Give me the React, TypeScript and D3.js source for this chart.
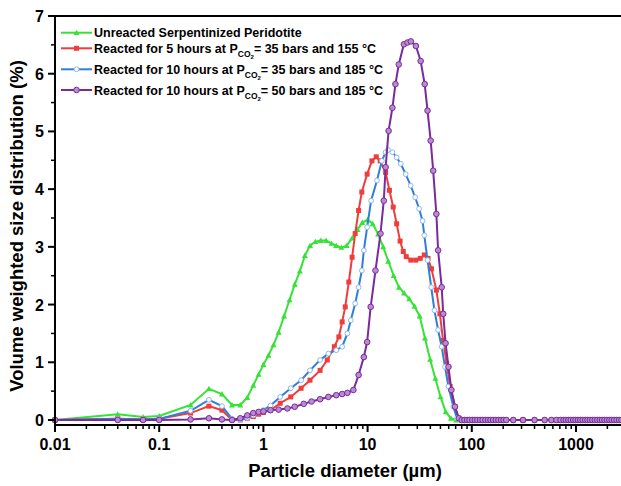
import React from "react";
import * as d3 from "d3";

// ---------- data ----------
const tailX = [80, 85, 90, 95, 101, 107, 113, 120, 127, 135, 143, 151, 160, 170, 180, 191, 202, 214, 250, 310, 400, 500, 580, 650, 710, 760, 800, 845, 890, 940, 990, 1045, 1100, 1160, 1225, 1290, 1360, 1435, 1515, 1600, 1690, 1780, 1880, 1980, 2090, 2200, 2320, 2450, 2590, 2730];

const greenX = [0.01, 0.04, 0.07, 0.1, 0.2, 0.3, 0.4, 0.5, 0.6, 0.7, 0.8, 0.9, 1.0, 1.12, 1.25, 1.4, 1.58, 1.78, 2.0, 2.24, 2.5, 2.8, 3.15, 3.55, 4.0, 4.5, 5.0, 5.6, 6.3, 7.1, 8.0, 8.9, 10, 11.2, 12.6, 14.1, 15.8, 17.8, 20, 22.4, 25.1, 28.2, 31.6, 35.5, 39.8, 44.7, 50.1, 56.2, 63.1, 70.8];
const greenY = [0, 0.10, 0.05, 0.07, 0.26, 0.54, 0.45, 0.26, 0.26, 0.39, 0.6, 0.79, 0.96, 1.12, 1.3, 1.52, 1.8, 2.08, 2.35, 2.58, 2.85, 3.02, 3.09, 3.11, 3.11, 3.06, 3.02, 2.99, 3.02, 3.15, 3.3, 3.42, 3.47, 3.4, 3.22, 3.0, 2.75, 2.5, 2.3, 2.2, 2.1, 1.97, 1.8, 1.42, 1.05, 0.72, 0.4, 0.14, 0.03, 0];

const redX = [0.01, 0.04, 0.07, 0.1, 0.2, 0.3, 0.4, 0.5, 0.6, 0.7, 0.8, 0.9, 1.0, 1.17, 1.45, 1.83, 2.3, 2.8, 3.5, 4.1, 4.8, 5.3, 5.7, 6.1, 6.6, 7.1, 7.6, 8.2, 8.8, 9.9, 11, 12.1, 13.2, 14.9, 16.2, 17.6, 19, 20.5, 22, 23.5, 26, 29, 32, 35, 38, 41, 45.7, 49.4, 53, 57.4, 62, 69, 75];
const redY = [0, 0.02, 0.01, 0.02, 0.12, 0.24, 0.17, 0, 0, 0.03, 0.06, 0.1, 0.13, 0.17, 0.29, 0.40, 0.55, 0.69, 0.86, 1.04, 1.27, 1.44, 1.7, 1.96, 2.39, 2.82, 3.23, 3.63, 3.95, 4.26, 4.49, 4.56, 4.49, 4.29, 3.98, 3.69, 3.4, 3.1, 2.92, 2.83, 2.77, 2.77, 2.8, 2.86, 2.8, 2.62, 2.25, 1.84, 1.38, 0.98, 0.58, 0.23, 0.03];

const blueX = [0.01, 0.04, 0.07, 0.1, 0.2, 0.3, 0.4, 0.5, 0.6, 0.7, 0.8, 0.9, 1.0, 1.17, 1.45, 1.83, 2.3, 2.8, 3.5, 4.2, 5.0, 5.7, 6.4, 6.9, 7.6, 8.2, 8.8, 9.2, 9.9, 10.8, 12.3, 13.7, 14.9, 15.7, 17.3, 19, 20.8, 23.2, 25.9, 28.6, 31.2, 33.7, 35, 37.6, 40.8, 43.8, 47.5, 51.4, 55.3, 59.7, 66.5, 72];
const blueY = [0, 0.02, 0.01, 0.02, 0.16, 0.35, 0.24, 0.02, 0, 0.04, 0.08, 0.13, 0.17, 0.25, 0.4, 0.55, 0.69, 0.86, 1.04, 1.15, 1.21, 1.27, 1.5, 1.73, 2.02, 2.3, 2.59, 2.94, 3.34, 3.8, 4.15, 4.49, 4.64, 4.68, 4.64, 4.55, 4.44, 4.26, 4.06, 3.86, 3.66, 3.45, 3.2, 2.77, 2.3, 1.9, 1.56, 1.27, 0.92, 0.58, 0.23, 0.03];

const purpleX = [0.01, 0.04, 0.07, 0.1, 0.2, 0.3, 0.4, 0.5, 0.6, 0.7, 0.8, 0.9, 1.0, 1.17, 1.4, 1.7, 2.0, 2.44, 2.9, 3.5, 4.2, 5.0, 5.7, 6.4, 7.3, 8.2, 9.2, 9.9, 10.7, 11.9, 13.3, 14.3, 14.9, 15.9, 17.3, 18.5, 19.9, 22.3, 24.1, 26, 29.1, 32.3, 35.3, 37.6, 40.3, 42.6, 45.7, 47.5, 51.4, 53.2, 56, 59.7, 63.7, 69, 75];
const purpleY = [0, 0, 0, 0, 0.01, 0.03, 0.01, 0, 0.03, 0.08, 0.12, 0.14, 0.15, 0.17, 0.18, 0.2, 0.23, 0.28, 0.32, 0.36, 0.4, 0.43, 0.45, 0.47, 0.52, 0.78, 1.09, 1.35, 1.96, 2.59, 3.23, 3.8, 4.38, 5.01, 5.41, 5.82, 6.16, 6.51, 6.54, 6.56, 6.48, 6.22, 5.82, 5.36, 4.84, 4.32, 3.57, 2.94, 2.3, 1.84, 1.33, 0.92, 0.52, 0.23, 0.03];

const xTickLabels = ["0.01", "0.1", "1", "10", "100", "1000"];
const yTickLabels = ["0", "1", "2", "3", "4", "5", "6", "7"];

const legendLabels = [
  { pre: "Unreacted Serpentinized Peridotite", post: "" },
  { pre: "Reacted for 5 hours at P", post: "= 35 bars and 155 °C" },
  { pre: "Reacted for 10 hours at P", post: "= 35 bars and 185 °C" },
  { pre: "Reacted for 10 hours at P", post: "= 50 bars and 185 °C" },
];

const COLORS = ["#37e237", "#ef3d3d", "#2f7ed8", "#7a2a9c"];

const W = 621;
const H = 486;
const FONT = "'Liberation Sans', Arial, sans-serif";

export default function App() {
  const x = d3.scaleLog().domain([0.01, 1000]).range([55, 576]);
  const y = d3.scaleLinear().domain([0, 7]).range([420, 16]);
  const axisY = 425;
  const leftX = 55;
  const topY = 16;

  const mk = (xs: number[], ys: number[]) => {
    const pts = xs.map((v, i) => [v, ys[i]] as [number, number]);
    tailX.forEach((t) => { if (t > xs[xs.length - 1]) pts.push([t, 0]); });
    return pts;
  };
  const series = [
    mk(greenX, greenY),
    mk(redX, redY),
    mk(blueX, blueY),
    mk(purpleX, purpleY),
  ];
  const line = d3.line<[number, number]>().x((d) => x(d[0])).y((d) => y(d[1]));

  const marker = (k: number, cx: number, cy: number, key: string) => {
    const c = COLORS[k];
    if (k === 0) {
      const s = 3;
      return <path key={key} d={`M${cx},${cy - s}L${cx + s},${cy + s * 0.8}L${cx - s},${cy + s * 0.8}Z`} fill={c} />;
    }
    if (k === 1) return <rect key={key} x={cx - 2.5} y={cy - 2.5} width={5} height={5} fill={c} />;
    if (k === 2) return <circle key={key} cx={cx} cy={cy} r={2.4} fill="#ffffff" stroke="#8cb8ee" strokeWidth={1} />;
    return <circle key={key} cx={cx} cy={cy} r={2.8} fill="#b98bd0" stroke={c} strokeWidth={1} />;
  };

  const majors = [0.01, 0.1, 1, 10, 100, 1000];
  const minors: number[] = [];
  majors.forEach((b) => {
    for (let m = 2; m <= 9; m++) minors.push(b * m);
  });

  return (
    <svg width={W} height={H} style={{ display: "block", position: "absolute", left: 0, top: 0, background: "#fff" }} fontFamily={FONT}>
      <rect x={0} y={0} width={W} height={H} fill="#fff" />
      {series.map((pts, k) => (
        <g key={k}>
          <path d={line(pts) || ""} fill="none" stroke={COLORS[k]} strokeWidth={2} />
          {pts.map((p, i) => marker(k, x(p[0]), y(p[1]), `${k}-${i}`))}
        </g>
      ))}
      {/* frame */}
      <line x1={leftX} x2={W + 5} y1={topY} y2={topY} stroke="#000" strokeWidth={2} />
      <line x1={leftX} x2={W + 5} y1={axisY} y2={axisY} stroke="#000" strokeWidth={2} />
      <line x1={leftX} x2={leftX} y1={topY - 1} y2={axisY + 1} stroke="#000" strokeWidth={2} />
      {/* x ticks */}
      {majors.map((v, i) => (
        <g key={`xm${i}`}>
          <line x1={x(v)} x2={x(v)} y1={axisY} y2={axisY + 7} stroke="#000" strokeWidth={2} />
          <text x={x(v)} y={axisY + 25} textAnchor="middle" fontSize={16} fontWeight="bold">{xTickLabels[i]}</text>
        </g>
      ))}
      {minors.filter((v) => x(v) < W + 2).map((v, i) => (
        <line key={`xn${i}`} x1={x(v)} x2={x(v)} y1={axisY} y2={axisY + 4} stroke="#000" strokeWidth={1.5} />
      ))}
      {/* y ticks */}
      {yTickLabels.map((t, i) => (
        <g key={`ym${i}`}>
          <line x1={leftX - 7} x2={leftX} y1={y(i)} y2={y(i)} stroke="#000" strokeWidth={2} />
          <text x={leftX - 11} y={y(i) + 6} textAnchor="end" fontSize={16} fontWeight="bold">{t}</text>
        </g>
      ))}
      {d3.range(0.5, 7, 1).map((v, i) => (
        <line key={`yn${i}`} x1={leftX - 4} x2={leftX} y1={y(v)} y2={y(v)} stroke="#000" strokeWidth={1.5} />
      ))}
      {/* axis titles */}
      <text x={345} y={477} textAnchor="middle" fontSize={18.5} fontWeight="bold">Particle diameter (µm)</text>
      <text transform={`translate(23,226) rotate(-90)`} textAnchor="middle" fontSize={18.5} fontWeight="bold">Volume weighted size distribution (%)</text>
      {/* legend */}
      {legendLabels.map((l, i) => {
        const ly = [32.7, 48.3, 69.3, 90][i];
        return (
          <g key={`lg${i}`}>
            <line x1={61} x2={92} y1={ly} y2={ly} stroke={COLORS[i]} strokeWidth={2} />
            {marker(i, 76.5, ly, `lm${i}`)}
            <text x={94} y={ly + 4.5} fontSize={12.5} fontWeight="bold">
              {l.pre}
              {l.post && (
                <>
                  <tspan fontSize={8.5} dy={4}>CO</tspan>
                  <tspan fontSize={6} dy={2}>2</tspan>
                  <tspan fontSize={12.5} dy={-6}>{l.post}</tspan>
                </>
              )}
            </text>
          </g>
        );
      })}
    </svg>
  );
}
